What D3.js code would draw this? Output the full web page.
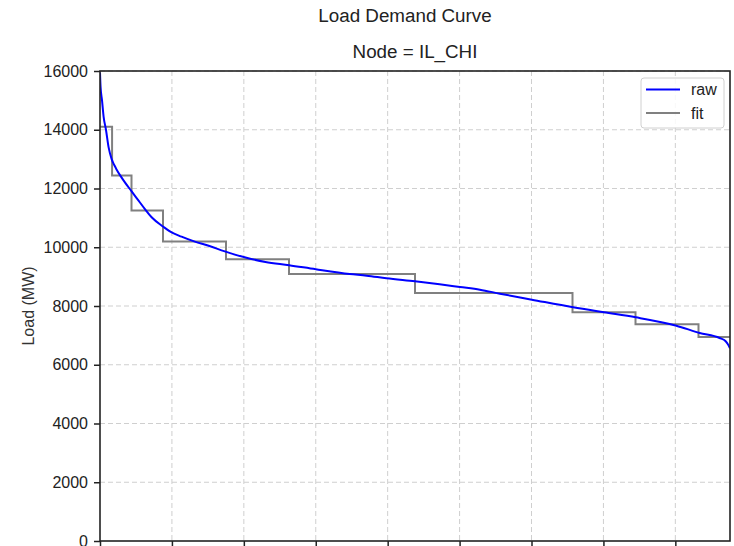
<!DOCTYPE html>
<html>
<head>
<meta charset="utf-8">
<script src="https://cdn.jsdelivr.net/npm/d3@7"></script>
<style>
  html, body { margin: 0; padding: 0; background: #fff; }
  svg { display: block; font-family: "Liberation Sans", Arial, sans-serif; }
</style>
</head>
<body>
<svg id="chart" width="734" height="546"></svg>
<script>
// ---- data ----
const title = "Load Demand Curve";
const subtitle = "Node = IL_CHI";
const yLabel = "Load (MW)";
const yTicks = [0, 2000, 4000, 6000, 8000, 10000, 12000, 14000, 16000];
const xTicks = [0, 1000, 2000, 3000, 4000, 5000, 6000, 7000, 8000];

// raw sorted load (hour rank, MW)
const rawHours = [0, 8, 28, 50, 83, 120, 162, 200, 230, 301, 440, 520, 625, 718, 880, 972, 1134, 1319, 1500, 1736, 2037, 2300, 2630, 3000, 3472, 3708, 3982, 4380, 4722, 5005, 5282, 5560, 6005, 6579, 7009, 7449, 8014, 8338, 8615, 8700, 8740, 8760];
const rawLoad  = [15950, 15450, 15000, 14450, 14000, 13400, 13000, 12790, 12650, 12370, 11900, 11640, 11300, 11020, 10700, 10540, 10360, 10190, 10060, 9860, 9640, 9500, 9390, 9250, 9089, 9033, 8943, 8840, 8740, 8647, 8556, 8420, 8216, 7955, 7785, 7615, 7330, 7081, 6911, 6800, 6660, 6560];

// fitted step levels: block boundaries (hours) and block levels (MW)
const fitEdges  = [0, 168, 438, 876, 1752, 2628, 4380, 6570, 7446, 8322, 8760];
const fitLevels = [14100, 12440, 11250, 10200, 9590, 9090, 8440, 7785, 7376, 6945];

const legendItems = [
  { label: "raw", color: "#0000ff" },
  { label: "fit", color: "#808080" }
];

// ---- layout ----
const svg = d3.select("#chart");
const L = 100, R = 730, T = 71, B = 541;

const x = d3.scaleLinear().domain([0, 8760]).range([L, R]);
const y = d3.scaleLinear().domain([0, 16000]).range([B, T]);

// grid
const grid = svg.append("g");
grid.selectAll("line.gx").data(xTicks.filter(d => d > 0)).enter().append("line")
  .attr("x1", d => x(d)).attr("x2", d => x(d)).attr("y1", T).attr("y2", B)
  .attr("stroke", "#cfcfcf").attr("stroke-width", 1).attr("stroke-dasharray", "5,3");
grid.selectAll("line.gy").data(yTicks.filter(d => d > 0)).enter().append("line")
  .attr("x1", L).attr("x2", R).attr("y1", d => y(d)).attr("y2", d => y(d))
  .attr("stroke", "#cfcfcf").attr("stroke-width", 1).attr("stroke-dasharray", "5,3");

// clip
svg.append("clipPath").attr("id", "clip").append("rect")
  .attr("x", L).attr("y", T).attr("width", R - L).attr("height", B - T);

// fit step line
const fitPts = [];
fitLevels.forEach((v, i) => {
  fitPts.push([fitEdges[i], v]);
  fitPts.push([fitEdges[i + 1], v]);
});
const stepLine = d3.line().x(d => x(d[0])).y(d => y(d[1]));
svg.append("path").datum(fitPts)
  .attr("d", stepLine).attr("fill", "none")
  .attr("stroke", "#808080").attr("stroke-width", 2)
  .attr("clip-path", "url(#clip)");

// raw line
const rawPts = rawHours.map((h, i) => [h, rawLoad[i]]);
const rawLine = d3.line().x(d => x(d[0])).y(d => y(d[1])).curve(d3.curveMonotoneX);
svg.append("path").datum(rawPts)
  .attr("d", rawLine).attr("fill", "none")
  .attr("stroke", "#0000ff").attr("stroke-width", 2)
  .attr("clip-path", "url(#clip)");

// axes
const yAxis = d3.axisLeft(y).tickValues(yTicks).tickSize(6).tickPadding(6).tickFormat(d3.format("d"));
const gy = svg.append("g").attr("transform", `translate(${L},0)`).call(yAxis);
gy.select(".domain").remove();
gy.selectAll(".tick line").attr("stroke", "#222").attr("stroke-width", 1.5);
gy.selectAll(".tick text").attr("font-size", "16px").attr("fill", "#222")
  .attr("font-family", "'Liberation Sans', Arial, sans-serif");

const xAxis = d3.axisBottom(x).tickValues(xTicks).tickSize(6).tickFormat("");
const gx = svg.append("g").attr("transform", `translate(0,${B})`).call(xAxis);
gx.select(".domain").remove();
gx.selectAll(".tick line").attr("stroke", "#222").attr("stroke-width", 1.5);

// frame
svg.append("rect").attr("x", L).attr("y", T).attr("width", R - L).attr("height", B - T)
  .attr("fill", "none").attr("stroke", "#222").attr("stroke-width", 1.6);

// titles
svg.append("text").attr("x", 405).attr("y", 22).attr("text-anchor", "middle")
  .attr("font-size", "18.8px").attr("fill", "#222").text(title);
svg.append("text").attr("x", (L + R) / 2).attr("y", 58).attr("text-anchor", "middle")
  .attr("font-size", "18.8px").attr("fill", "#222").text(subtitle);

// y label
svg.append("text").attr("transform", `translate(34,${(T + B) / 2}) rotate(-90)`)
  .attr("text-anchor", "middle").attr("font-size", "16px").attr("fill", "#333").text(yLabel);

// legend
const lg = svg.append("g");
lg.append("rect").attr("x", 641).attr("y", 78).attr("width", 83).attr("height", 50)
  .attr("rx", 3).attr("fill", "#fff").attr("fill-opacity", 0.85)
  .attr("stroke", "#d0d0d0").attr("stroke-width", 1);
legendItems.forEach((it, i) => {
  const cy = 89.5 + i * 23.5;
  lg.append("line").attr("x1", 646).attr("x2", 680).attr("y1", cy).attr("y2", cy)
    .attr("stroke", it.color).attr("stroke-width", 2);
  lg.append("text").attr("x", 691).attr("y", cy + 5.5).attr("font-size", "16px")
    .attr("fill", "#222").text(it.label);
});
</script>
</body>
</html>
